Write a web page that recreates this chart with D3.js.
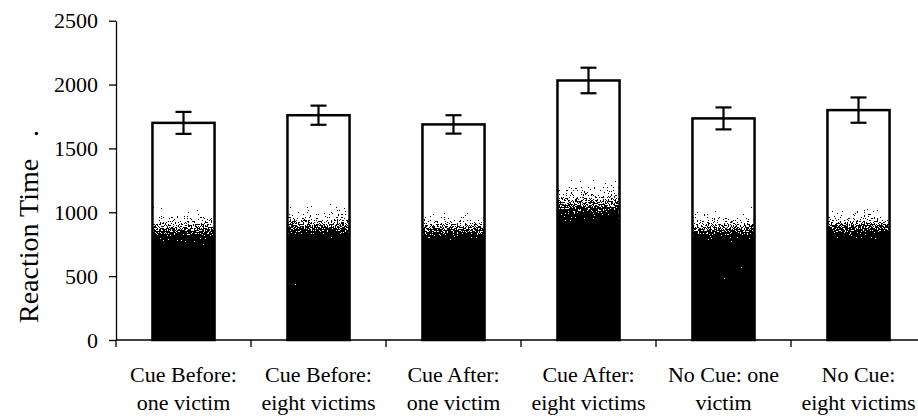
<!DOCTYPE html>
<html lang="en">
<head>
    <meta charset="UTF-8">
    <title>Reaction Time</title>
    <style>
        body { margin:0; background:#fff; }
        svg text { font-family: "Liberation Serif", "Times New Roman", "DejaVu Serif", serif; fill:#000; }
        .tick-label { font-size:22px; }
        .y-title { font-size:28px; }
    </style>
    <script src="https://d3js.org/d3.v7.min.js"></script>
</head>
<body>
<script>

// chart values
var categories = ["cb1", "cb8", "ca1", "ca8", "nc1", "nc8"];
var labelLines = [
    ["Cue Before:", "one victim"],
    ["Cue Before:", "eight victims"],
    ["Cue After:", "one victim"],
    ["Cue After:", "eight victims"],
    ["No Cue: one", "victim"],
    ["No Cue:", "eight victims"]
];
var means = [1700, 1760, 1688, 2032, 1735, 1800];
var errors = [86, 75, 72, 100, 86, 99];
var shaded = [1040, 1070, 1040, 1270, 1040, 1070];
var yTicks = [0, 500, 1000, 1500, 2000, 2500];

var window_width = 918;
var window_height = 416;
var serif = "Liberation Serif, Times New Roman, DejaVu Serif, serif";

var svg = d3.select("body").append("svg").attr("width", window_width).attr("height", window_height)
    .attr("font-family", serif);

var defs = svg.append("defs");
var grad = defs.append("linearGradient").attr("id", "fade")
    .attr("x1", 0).attr("y1", 0).attr("x2", 0).attr("y2", 1);
grad.append("stop").attr("offset", 0).attr("stop-color", "#000").attr("stop-opacity", 0.12);
grad.append("stop").attr("offset", 0.1).attr("stop-color", "#000").attr("stop-opacity", 0.3);
grad.append("stop").attr("offset", 0.22).attr("stop-color", "#000").attr("stop-opacity", 0.75);
grad.append("stop").attr("offset", 0.32).attr("stop-color", "#000").attr("stop-opacity", 1);
grad.append("stop").attr("offset", 1).attr("stop-color", "#000").attr("stop-opacity", 1);

// stipple: noise added to the alpha, then thresholded
var filt = defs.append("filter").attr("id", "stipple")
    .attr("x", 0).attr("y", 0).attr("width", 1).attr("height", 1)
    .attr("color-interpolation-filters", "sRGB");
filt.append("feTurbulence").attr("type", "fractalNoise").attr("baseFrequency", 0.7)
    .attr("numOctaves", 2).attr("seed", 7).attr("result", "n");
filt.append("feColorMatrix").attr("in", "n").attr("type", "matrix")
    .attr("values", "0 0 0 0 0  0 0 0 0 0  0 0 0 0 0  1 0 0 0 0").attr("result", "na");
filt.append("feComposite").attr("in", "SourceGraphic").attr("in2", "na")
    .attr("operator", "arithmetic").attr("k1", 0).attr("k2", 1).attr("k3", 1.3).attr("k4", -0.65)
    .attr("result", "sum");
var ct = filt.append("feComponentTransfer").attr("in", "sum");
ct.append("feFuncA").attr("type", "discrete").attr("tableValues", "0 1");

var x0 = 116, xEnd = 926;
var x = d3.scaleBand().domain(categories).range([x0, xEnd])
    .paddingInner(0.54).paddingOuter(0.27);
var y = d3.scaleLinear().domain([0, 2500]).range([340, 20.7]);

var data = categories.map(function(c, i) {
    return { cat:c, mean:means[i], err:errors[i], dark:shaded[i], lines:labelLines[i] };
});

// bars
var bars = svg.append("g");
bars.selectAll("rect.bg").data(data).enter().append("rect").attr("class", "bg")
    .attr("x", function(d) { return x(d.cat); })
    .attr("y", function(d) { return y(d.mean); })
    .attr("width", x.bandwidth())
    .attr("height", function(d) { return y(0) - y(d.mean); })
    .style("fill", "#fff");
bars.selectAll("rect.dark").data(data).enter().append("rect").attr("class", "dark")
    .attr("x", function(d) { return x(d.cat); })
    .attr("y", function(d) { return y(d.dark); })
    .attr("width", x.bandwidth())
    .attr("height", function(d) { return y(0) - y(d.dark); })
    .style("fill", "url(#fade)")
    .attr("filter", "url(#stipple)");
bars.selectAll("rect.outline").data(data).enter().append("rect").attr("class", "outline")
    .attr("x", function(d) { return x(d.cat); })
    .attr("y", function(d) { return y(d.mean); })
    .attr("width", x.bandwidth())
    .attr("height", function(d) { return y(0) - y(d.mean); })
    .style("fill", "none").style("stroke", "#000").style("stroke-width", 2.5);

// error bars
var eb = svg.append("g").style("stroke", "#000").style("stroke-width", 2.2);
var cx = function(d) { return x(d.cat) + x.bandwidth() / 2; };
eb.selectAll("line.v").data(data).enter().append("line")
    .attr("x1", cx).attr("x2", cx)
    .attr("y1", function(d) { return y(d.mean + d.err); })
    .attr("y2", function(d) { return y(d.mean - d.err); });
[1, -1].forEach(function(s) {
    eb.selectAll("line.cap" + s).data(data).enter().append("line")
        .attr("x1", function(d) { return cx(d) - 8; })
        .attr("x2", function(d) { return cx(d) + 8; })
        .attr("y1", function(d) { return y(d.mean + s * d.err); })
        .attr("y2", function(d) { return y(d.mean + s * d.err); });
});

// y axis
var yAxis = svg.append("g").attr("transform", "translate(" + x0 + ",0)")
    .call(d3.axisLeft(y).tickValues(yTicks).tickFormat(d3.format("d"))
        .tickSize(7).tickSizeOuter(0).tickPadding(11));
yAxis.attr("font-family", serif).attr("font-size", null);
yAxis.select(".domain").style("stroke", "#000").style("stroke-width", 1.3);
yAxis.selectAll(".tick line").style("stroke", "#000").style("stroke-width", 1.3);
yAxis.selectAll(".tick text").attr("class", "tick-label").attr("dy", "0.33em");

// x axis
var xg = svg.append("g");
xg.append("line").attr("x1", x0).attr("x2", window_width).attr("y1", y(0)).attr("y2", y(0))
    .style("stroke", "#000").style("stroke-width", 1.3);
var bounds = d3.range(categories.length + 1).map(function(i) { return x0 + i * x.step(); });
xg.selectAll("line.tk").data(bounds).enter().append("line").attr("class", "tk")
    .attr("x1", function(d) { return d; }).attr("x2", function(d) { return d; })
    .attr("y1", y(0)).attr("y2", y(0) + 7)
    .style("stroke", "#000").style("stroke-width", 1.3);
var lab = xg.selectAll("text").data(data).enter().append("text").attr("class", "tick-label")
    .attr("text-anchor", "middle")
    .attr("transform", function(d) { return "translate(" + cx(d) + ",382)"; });
lab.selectAll("tspan").data(function(d) { return d.lines; }).enter().append("tspan")
    .attr("x", 0).attr("y", function(d, i) { return i * 28; })
    .text(function(d) { return d; });

// y title
var yt = svg.append("text").attr("class", "y-title")
    .attr("transform", "translate(38,323) rotate(-90)")
    .attr("text-anchor", "start");
yt.append("tspan").text("Reaction Time");
yt.append("tspan").attr("dx", 22).text(".");

</script>
</body>
</html>
